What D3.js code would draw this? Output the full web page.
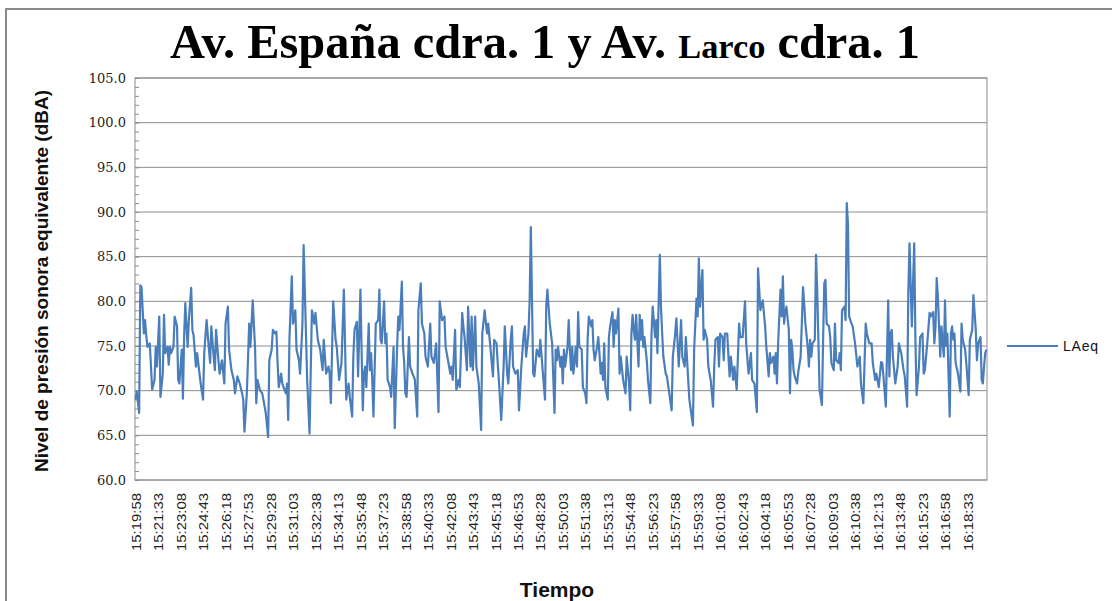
<!DOCTYPE html>
<html>
<head>
<meta charset="utf-8">
<script src="https://cdn.jsdelivr.net/npm/d3@7"></script>
<style>
  html, body { margin: 0; padding: 0; background: #fff; }
  svg { display: block; }
  .grid line { stroke: #8c8c8c; stroke-width: 1; }
  .axis path, .axis line { stroke: #8c8c8c; }
</style>
</head>
<body>
<div id="chart"></div>
<script>
/* ---------- Data (LAeq, one reading every 5 s from 15:19:58) ---------- */
const startTime = "15:19:58";
const stepSeconds = 5;
const sampleCount = 720;

// category labels shown on the x axis (every 19th sample)
const tickLabels = [
  "15:19:58","15:21:33","15:23:08","15:24:43","15:26:18","15:27:53","15:29:28","15:31:03",
  "15:32:38","15:34:13","15:35:48","15:37:23","15:38:58","15:40:33","15:42:08","15:43:43",
  "15:45:18","15:46:53","15:48:28","15:50:03","15:51:38","15:53:13","15:54:48","15:56:23",
  "15:57:58","15:59:33","16:01:08","16:02:43","16:04:18","16:05:53","16:07:28","16:09:03",
  "16:10:38","16:12:13","16:13:48","16:15:23","16:16:58","16:18:33"
];
const tickEvery = 19;

const yTicks = [60, 65, 70, 75, 80, 85, 90, 95, 100, 105];

// sample number (5 s steps) of each reading
const sampleNo = [
  0,1,3,4,5,7,8,9,10,12,14,16,17,18,20,21,23,24,25,27,28,29,30,32,33,35,36,37,39,40,
  41,42,44,45,47,48,49,51,52,54,55,57,58,60,62,63,64,66,67,68,70,71,73,75,76,78,79,81,83,84,
  86,88,90,91,92,94,96,97,99,101,102,103,105,107,108,110,112,113,115,116,118,119,120,121,123,124,125,127,128,129,
  130,132,133,135,136,138,139,141,142,143,145,147,149,151,152,154,156,158,159,161,163,164,165,167,169,170,172,174,176,178,
  180,181,183,184,185,187,188,189,190,192,193,194,195,197,198,199,200,201,203,205,206,207,208,210,211,212,213,215,216,218,
  219,221,222,223,225,226,227,228,229,230,231,232,234,235,236,238,239,241,242,244,245,247,249,250,252,254,256,257,259,261,
  262,264,266,267,268,270,271,273,274,276,277,278,280,281,283,284,285,287,288,290,292,293,295,297,298,300,302,303,305,306,
  307,309,311,312,314,315,317,318,319,321,323,324,326,328,329,330,332,333,334,336,337,339,341,342,344,346,347,348,350,352,
  354,355,356,357,359,360,361,362,363,365,366,367,368,369,370,372,373,374,375,377,378,380,381,382,383,385,386,387,388,390,
  391,392,393,394,395,396,397,399,400,401,403,404,405,406,408,409,410,412,414,415,417,418,419,420,421,422,423,425,426,427,
  428,429,430,432,433,435,436,437,439,440,441,443,444,445,446,448,449,451,453,454,456,457,459,461,462,464,465,467,468,471,
  472,474,475,476,477,479,480,481,483,484,486,488,489,490,492,493,494,496,497,498,500,501,502,503,505,506,508,510,511,513,
  515,516,518,520,521,523,525,526,528,530,532,533,535,536,537,539,540,541,542,543,545,546,547,548,549,550,552,553,554,555,
  556,557,559,560,562,563,564,565,566,568,569,570,571,572,574,575,576,577,578,580,581,582,583,584,586,587,588,590,591,592,
  594,595,596,597,599,600,601,602,603,605,606,608,610,612,613,615,617,618,620,622,623,625,626,628,630,631,632,634,636,637,
  638,639,640,642,644,645,647,649,650,652,653,654,656,657,658,659,660,662,663,665,666,667,669,671,672,674,675,676,677,678,
  679,680,681,683,684,685,686,688,689,690,691,692,693,695,697,698,699,701,702,704,705,707,708,710,711,712,714,715,716,717,
  718,719
];

// LAeq in dBA for each sample above
const laeq = [
  69.0,69.9,67.5,81.8,81.6,76.4,77.9,76.2,74.9,75.3,70.1,71.2,74.9,72.7,78.3,69.3,71.9,78.5,74.2,74.9,72.9,74.9,74.2,74.9,78.3,77.2,71.2,70.8,74.6,69.1,
  76.0,79.8,74.9,77.9,81.5,76.8,76.2,72.7,74.2,71.9,70.8,69.0,74.2,77.9,74.6,73.1,77.2,73.8,72.3,76.8,73.4,71.9,73.4,70.8,77.5,79.4,74.6,72.3,71.2,69.7,
  71.6,70.8,69.7,69.0,65.4,69.7,77.5,74.9,80.1,74.6,68.6,71.2,70.1,69.7,69.0,67.5,64.8,73.4,74.6,76.8,76.4,76.6,73.1,70.4,71.9,70.8,70.4,69.7,70.8,66.7,
  75.7,82.8,77.5,79.0,74.6,73.4,71.9,77.5,86.3,81.3,71.2,65.2,79.0,77.5,78.7,75.7,74.6,72.3,75.7,71.9,72.7,71.9,68.6,80.0,75.7,74.9,71.2,73.1,81.3,69.0,
  70.8,69.3,67.1,73.8,76.8,77.7,71.6,76.4,81.3,67.8,71.9,72.7,70.4,77.5,72.3,74.2,71.2,67.1,77.5,77.9,81.3,75.7,75.3,80.0,75.3,76.4,71.2,70.4,69.3,74.9,
  65.8,74.9,78.3,76.8,82.2,74.9,73.1,69.7,69.3,72.7,76.0,72.7,71.9,71.6,71.2,67.1,79.0,82.0,77.5,76.4,73.8,72.7,77.5,73.8,73.1,75.3,67.6,80.0,77.9,78.3,
  74.9,73.4,71.9,72.7,71.2,76.8,70.1,71.2,70.4,78.7,77.2,76.0,72.3,79.4,72.7,78.3,72.3,78.3,72.7,70.8,65.6,76.4,79.0,76.4,77.5,74.6,71.6,75.7,75.3,73.1,
  71.2,66.7,72.7,77.2,71.9,70.8,75.7,77.2,72.7,71.9,72.3,67.8,72.7,76.4,77.2,73.8,76.4,80.1,88.3,71.9,71.6,74.6,73.8,75.7,72.3,69.0,79.4,81.3,77.5,75.3,
  67.5,74.6,73.4,74.9,72.7,73.8,70.8,74.6,72.7,74.9,77.9,74.6,72.3,74.9,71.9,74.9,72.7,78.8,74.9,74.6,70.4,69.7,68.6,75.7,78.3,77.2,77.9,74.6,73.4,74.9,
  76.0,74.2,71.9,73.1,71.2,75.3,70.4,69.0,76.0,77.2,78.8,74.9,77.9,76.4,79.2,71.9,73.8,71.2,69.7,73.8,70.8,67.8,76.4,78.5,76.8,75.7,78.5,72.7,78.5,75.7,
  77.9,74.9,76.0,73.4,71.2,68.6,76.4,79.4,76.0,77.9,74.2,85.2,79.4,76.4,73.8,71.9,71.6,69.7,67.8,73.8,76.4,78.1,72.7,77.9,73.8,72.7,76.0,71.2,69.0,66.1,
  74.6,80.3,78.3,84.8,79.4,83.5,75.7,76.8,75.7,72.7,71.2,68.2,72.7,75.7,76.0,72.7,76.4,76.0,73.4,76.4,76.4,73.8,71.6,73.8,71.2,72.7,70.1,77.5,76.0,76.0,
  80.0,75.3,71.9,74.2,71.2,70.8,67.6,83.7,79.0,80.1,77.2,74.9,71.6,74.2,73.1,73.8,71.9,74.2,70.8,75.3,81.3,78.3,82.8,77.5,78.7,79.4,76.8,69.7,75.7,74.6,
  72.3,71.6,70.8,72.1,73.8,77.5,81.6,79.8,77.5,74.9,72.7,75.7,73.8,75.3,75.7,85.2,81.3,75.7,70.1,68.4,75.7,82.0,82.4,77.5,77.2,76.0,73.1,72.3,77.5,73.4,
  73.1,74.2,72.3,79.0,79.4,77.9,91.0,88.7,78.3,77.5,77.2,75.3,72.7,73.8,70.8,68.6,77.5,76.4,75.3,75.3,73.1,71.2,71.9,70.4,73.2,73.1,71.6,68.2,80.1,71.6,
  76.4,76.8,73.8,70.8,72.7,75.3,74.2,72.3,71.6,68.2,80.9,86.5,77.2,82.0,86.5,75.7,69.5,72.7,76.0,76.4,71.9,72.3,75.3,78.7,78.3,78.8,75.3,77.2,82.6,80.5,
  77.2,73.8,77.2,73.8,80.1,75.0,76.4,67.1,76.4,77.2,75.7,76.4,73.1,71.9,69.9,77.5,75.7,74.6,73.1,69.5,75.7,76.8,80.7,76.8,73.4,75.3,76.0,71.2,70.8,72.7,
  74.2,74.6
];

/* ---------- Chart ---------- */
const W = 1112, H = 601;
const M = { top: 78, right: 125, bottom: 121, left: 135 };

const data = sampleNo.map((s, i) => ({ s, v: laeq[i] }));

const svg = d3.select("#chart").append("svg")
  .attr("width", W).attr("height", H)
  .style("font-family", "'Liberation Sans', Arial, sans-serif");

// outer chart frame
svg.append("rect")
  .attr("x", 6).attr("y", 9)
  .attr("width", W + 20).attr("height", H + 20)
  .attr("fill", "#fff").attr("stroke", "#8a8a8a").attr("stroke-width", 2);

const x = d3.scaleLinear()
  .domain([0, sampleCount])
  .range([M.left, W - M.right]);

const y = d3.scaleLinear()
  .domain([60, 105])
  .range([H - M.bottom, M.top]);

// horizontal grid
svg.append("g")
  .attr("class", "grid")
  .selectAll("line")
  .data(yTicks)
  .join("line")
    .attr("x1", M.left).attr("x2", W - M.right)
    .attr("y1", d => y(d)).attr("y2", d => y(d));

// plot border
svg.append("rect")
  .attr("x", M.left).attr("y", M.top)
  .attr("width", W - M.right - M.left).attr("height", H - M.bottom - M.top)
  .attr("fill", "none").attr("stroke", "#8c8c8c");

// y axis labels
const yAxis = svg.append("g")
  .attr("class", "axis")
  .attr("transform", `translate(${M.left},0)`)
  .call(d3.axisLeft(y).tickValues(yTicks).tickSize(0).tickPadding(9).tickFormat(d3.format(".1f")));
yAxis.select(".domain").remove();
yAxis.selectAll("text")
  .style("font-family", "'DejaVu Serif', serif")
  .style("font-size", "13px")
  .attr("fill", "#222");

// minor ticks on the inside of the value axis
svg.append("g")
  .attr("class", "axis")
  .attr("transform", `translate(${M.left},0)`)
  .call(d3.axisRight(y).tickValues(d3.range(60, 106, 1)).tickSize(4).tickFormat(""))
  .select(".domain").remove();

// x axis (category labels every 19 samples)
const xAxis = svg.append("g")
  .attr("class", "axis")
  .attr("transform", `translate(0,${H - M.bottom})`)
  .call(d3.axisBottom(x)
    .tickValues(tickLabels.map((_, k) => k * tickEvery + 0.5))
    .tickSize(0)
    .tickFormat((d, k) => tickLabels[k]));
xAxis.select(".domain").remove();
xAxis.selectAll("text")
  .attr("transform", "rotate(-90)")
  .attr("text-anchor", "end")
  .attr("x", -13).attr("y", 0).attr("dy", "0.36em")
  .attr("textLength", 58).attr("lengthAdjust", "spacingAndGlyphs")
  .style("font-family", "'Liberation Sans', sans-serif")
  .style("font-size", "13px")
  .attr("fill", "#222");

// series line
svg.append("path")
  .datum(data)
  .attr("fill", "none")
  .attr("stroke", "#4a7ebb")
  .attr("stroke-width", 2.2)
  .attr("stroke-linejoin", "round")
  .attr("d", d3.line().x(d => x(d.s + 0.5)).y(d => y(d.v)));

// title
const title = svg.append("text")
  .attr("x", 170).attr("y", 58)
  .attr("textLength", 750).attr("lengthAdjust", "spacingAndGlyphs")
  .style("font-family", "'Liberation Serif', 'DejaVu Serif', serif")
  .style("font-weight", "bold")
  .style("font-size", "48px")
  .attr("fill", "#000");
title.append("tspan").text("Av. España cdra. 1 y Av. ");
title.append("tspan").style("font-size", "34px").text("Larco");
title.append("tspan").text(" cdra. 1");

// y axis title
svg.append("text")
  .attr("transform", `translate(48,${(M.top + H - M.bottom) / 2 + 2}) rotate(-90)`)
  .attr("text-anchor", "middle")
  .attr("textLength", 382).attr("lengthAdjust", "spacingAndGlyphs")
  .style("font-weight", "bold")
  .style("font-size", "19px")
  .attr("fill", "#111")
  .text("Nivel de presión sonora equivalente (dBA)");

// x axis title
svg.append("text")
  .attr("x", 557).attr("y", 597)
  .attr("text-anchor", "middle")
  .style("font-weight", "bold")
  .style("font-size", "21px")
  .attr("fill", "#111")
  .text("Tiempo");

// legend
const legend = svg.append("g").attr("transform", "translate(1007,346)");
legend.append("line")
  .attr("x1", 0).attr("x2", 51)
  .attr("stroke", "#4a7ebb").attr("stroke-width", 2.2);
legend.append("text")
  .attr("x", 56).attr("dy", "0.35em")
  .style("font-size", "14px")
  .style("letter-spacing", "0.8px")
  .attr("fill", "#111")
  .text("LAeq");
</script>
</body>
</html>
